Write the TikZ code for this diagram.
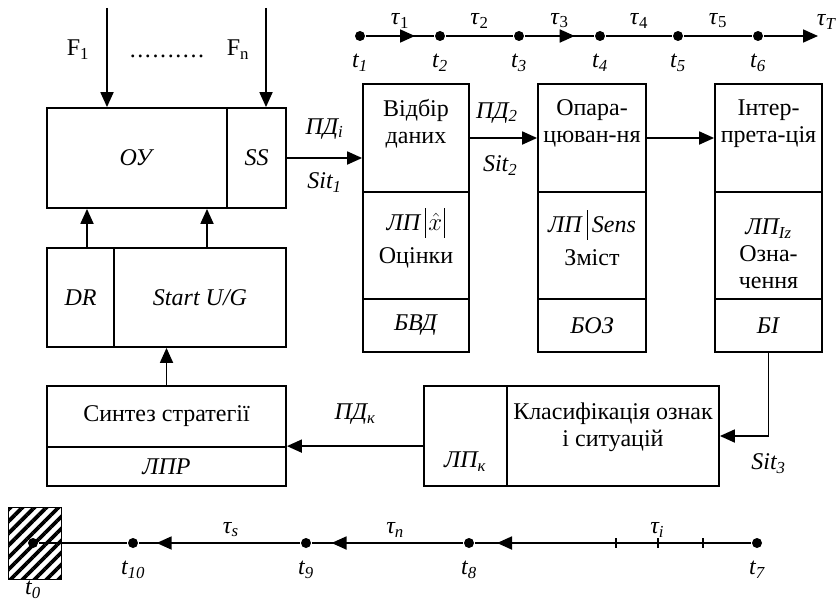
\documentclass[tikz,border=0pt]{standalone}
\usepackage{fontspec}
\setmainfont{Liberation Serif}
\usepackage{tikz}
\usetikzlibrary{positioning,arrows.meta,patterns.meta,decorations.markings}

\newcommand{\tallbar}{\raisebox{-7pt}{\rule{1.1pt}{30pt}}}

\begin{document}
\begin{tikzpicture}[
    x=1pt, y=-1pt,
    font=\fontsize{24}{27}\selectfont,
    line width=1.8pt,
    label distance=9pt,
    cell/.style 2 args={
        draw,
        inner sep=0pt,
        minimum width=#1,
        minimum height=#2
    },
    txt/.style={
        align=center,
        inner sep=0pt
    },
    lbl/.style={
        inner sep=2pt
    },
    tdot/.style={
        circle,
        fill,
        inner sep=0pt,
        minimum size=10pt
    },
    every label/.style={inner sep=2pt},
    arrow/.style={-{Triangle[length=15pt,width=13pt]}},
    midarrow/.style={
        postaction={decorate},
        decoration={markings,
            mark=at position #1 with {\arrow{Triangle[length=15pt,width=13pt]}}}
    }
]
\useasboundingbox (0,0) rectangle (837,602);

% disturbances
\coordinate (f1) at (107,8);
\coordinate (fn) at (266,8);
\node[txt] (f1tx) at (78,50) {F\textsubscript{1}};
\node[txt] (fntx) at (238,50) {F\textsubscript{n}};
\node[txt] (fdots) at (167,56) {\makebox[76pt]{\leaders\hbox to 7.6pt{\hss.\hss}\hfill}};

% object and control
\node[cell={180pt}{100pt}] (oy) at (137,158) {\textit{ОУ}};
\node[cell={59pt}{100pt}] (ss) at (256.5,158) {\textit{SS}};
\node[cell={67pt}{99pt}] (dr) at (80.5,297.5) {\textit{DR}};
\node[cell={172pt}{99pt}] (start) at (200,297.5) {\textit{Start U/G}};
\node[cell={239pt}{61pt}] (synth) at (166.5,416.5) {Синтез стратегії};
\node[cell={239pt}{39pt}] (lpr) at (166.5,466.5) {\textit{ЛПР}};

% processing blocks
\node[cell={106pt}{108pt}] (vid) at (416,138) {};
\node[cell={106pt}{107pt}] (vidlp) at (416,245.5) {};
\node[cell={106pt}{53pt}] (bvd) at (416,325.5) {\textit{БВД}};
\node[txt] (vidtx) at (416,123.5) {Відбір\\даних};
\node[txt] (vidlptx) at (416,238) {\textit{ЛП}\,\tallbar\kern2pt$\hat{x}$\kern2pt\tallbar\\[6pt]Оцінки};

\node[cell={108pt}{108pt}] (opa) at (592,138) {};
\node[cell={108pt}{107pt}] (opalp) at (592,245.5) {};
\node[cell={108pt}{53pt}] (boz) at (592,325.5) {\textit{БОЗ}};
\node[txt] (opatx) at (592,123.5) {Опара-\\цюван-ня};
\node[txt] (opalptx) at (592,238) {\textit{ЛП}\,\tallbar\,\textit{Sens}\\[6pt]Зміст};

\node[cell={107pt}{108pt}] (int) at (768.5,138) {};
\node[cell={107pt}{107pt}] (intlp) at (768.5,245.5) {};
\node[cell={107pt}{53pt}] (bi) at (768.5,325.5) {\textit{БІ}};
\node[txt] (inttx) at (768.5,123.5) {Інтер-\\прета-ція};
\node[txt] (intlptx) at (768.5,254) {\textit{ЛП\textsubscript{Iz}}\\Озна-\\чення};

% classification
\node[cell={83pt}{100pt}] (lpk) at (465.5,436) {};
\node[cell={212pt}{100pt}] (cls) at (613,436) {};
\node[txt] (lpktx) at (465,462) {\textit{ЛП\textsubscript{к}}};
\node[txt] (clstx) at (613,427) {Класифікація ознак\\і ситуацій};

\draw[arrow] (f1) -- (f1 |- oy.north);
\draw[arrow] (fn) -- (fn |- ss.north);
\draw[arrow] (ss.east) -- node[lbl, midway, above=16pt] {\textit{ПД\textsubscript{i}}}
    node[lbl, midway, below=12pt] {\textit{Sit\textsubscript{1}}} (ss.east -| vid.west);
\draw[arrow] (vid.east) -- node[lbl, pos=0.4, above=12pt] {\textit{ПД\textsubscript{2}}}
    node[lbl, pos=0.45, below=15pt] {\textit{Sit\textsubscript{2}}} (opa.west);
\draw[arrow] (opa.east) -- (int.west);
\draw[arrow] (bi.south) |- node[lbl, pos=0.5, below=15pt] {\textit{Sit\textsubscript{3}}} (cls.east);
\draw[arrow] (lpk.west |- lpr.north) -- node[lbl, midway, above=19pt] {\textit{ПД\textsubscript{к}}} (lpr.north east);
\draw[arrow] (synth.north) -- (synth.north |- start.south);
\draw[arrow] ([xshift=6.5pt]dr.north) -- ([xshift=6.5pt]dr.north |- oy.south);
\draw[arrow] ([xshift=7pt]start.north) -- ([xshift=7pt]start.north |- oy.south);

% forward time axis
\node[tdot, label={below:{\textit{t\textsubscript{1}}}}] (t1) at (360,36) {};
\node[tdot, label={below:{\textit{t\textsubscript{2}}}}] (t2) at (440,36) {};
\node[tdot, label={below:{\textit{t\textsubscript{3}}}}] (t3) at (519,36) {};
\node[tdot, label={below:{\textit{t\textsubscript{4}}}}] (t4) at (600,36) {};
\node[tdot, label={below:{\textit{t\textsubscript{5}}}}] (t5) at (678,36) {};
\node[tdot, label={below:{\textit{t\textsubscript{6}}}}] (t6) at (758,36) {};
\coordinate (tT) at (818,36);

\draw[midarrow=0.72] (t1) -- node[lbl, midway, above=5pt] {\textit{τ}\textsubscript{1}} (t2);
\draw (t2) -- node[lbl, midway, above=5pt] {\textit{τ}\textsubscript{2}} (t3);
\draw[midarrow=0.72] (t3) -- node[lbl, midway, above=5pt] {\textit{τ}\textsubscript{3}} (t4);
\draw (t4) -- node[lbl, midway, above=5pt] {\textit{τ}\textsubscript{4}} (t5);
\draw (t5) -- node[lbl, midway, above=5pt] {\textit{τ}\textsubscript{5}} (t6);
\draw[arrow] (t6) -- (tT) node[lbl, anchor=south west, xshift=-4pt, yshift=4pt] {\textit{τ\textsubscript{T}}};

% backward time axis
\node[draw, line width=0.8pt, inner sep=0pt, minimum width=53pt, minimum height=72pt,
    pattern={Lines[angle=45,distance=8.5pt,line width=3.8pt]}] (hatch) at (34.5,543) {};
\node[tdot, label={[label distance=29pt]below:{\textit{t\textsubscript{0}}}}] (t0) at (33,543) {};
\node[tdot, label={below:{\textit{t\textsubscript{10}}}}] (t10) at (133,543) {};
\node[tdot, label={below:{\textit{t\textsubscript{9}}}}] (t9) at (306,543) {};
\node[tdot, label={below:{\textit{t\textsubscript{8}}}}] (t8) at (469,543) {};
\node[tdot, label={below:{\textit{t\textsubscript{7}}}}] (t7) at (757,543) {};

\draw[midarrow=0.92] (t7) -- node[lbl, pos=0.34, above=3pt] {\textit{τ\textsubscript{i}}} (t8);
\draw[midarrow=0.87] (t8) -- node[lbl, pos=0.45, above=3pt] {\textit{τ\textsubscript{n}}} (t9);
\draw[midarrow=0.89] (t9) -- node[lbl, pos=0.43, above=3pt] {\textit{τ\textsubscript{s}}} (t10);
\draw (t10) -- (t0);
\foreach \x in {616,658,703}
    \draw (\x,538) -- (\x,548);

\end{tikzpicture}
\end{document}
